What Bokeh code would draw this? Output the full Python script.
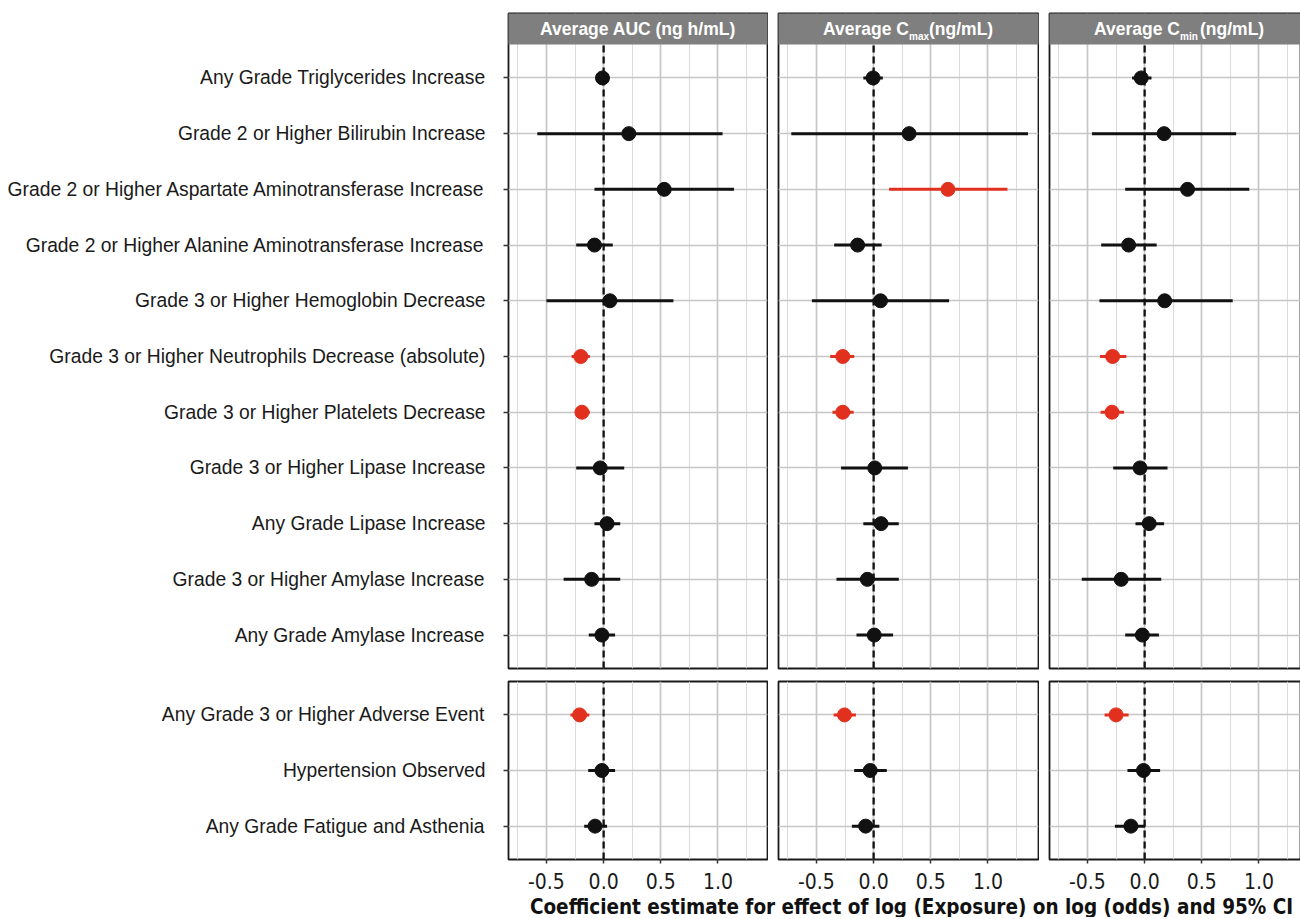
from bokeh.plotting import figure
from bokeh.layouts import row, column
from bokeh.models import Range1d, FixedTicker, ColumnDataSource
from bokeh.embed import file_html
from bokeh.resources import INLINE
from bokeh.core.properties import value

# ---------------- data ----------------
top_labels = [
    "Any Grade Triglycerides Increase",
    "Grade 2 or Higher Bilirubin Increase",
    "Grade 2 or Higher Aspartate Aminotransferase Increase",
    "Grade 2 or Higher Alanine Aminotransferase Increase",
    "Grade 3 or Higher Hemoglobin Decrease",
    "Grade 3 or Higher Neutrophils Decrease (absolute)",
    "Grade 3 or Higher Platelets Decrease",
    "Grade 3 or Higher Lipase Increase",
    "Any Grade Lipase Increase",
    "Grade 3 or Higher Amylase Increase",
    "Any Grade Amylase Increase",
]
bottom_labels = [
    "Any Grade 3 or Higher Adverse Event",
    "Hypertension Observed",
    "Any Grade Fatigue and Asthenia",
]

x_ticks = [-0.5, 0.0, 0.5, 1.0]
x_tick_labels = ["-0.5", "0.0", "0.5", "1.0"]
x_minor = [-0.75, -0.25, 0.25, 0.75, 1.25]

headers = [
    ("Average AUC (ng h/mL)", None, None),
    ("Average C", "max", "(ng/mL)"),
    ("Average C", "min", "(ng/mL)"),
]
x_title = "Coefficient estimate for effect of log (Exposure) on log (odds) and 95% CI"

# order: 11 top rows then 3 bottom rows
auc_est = [-0.01, 0.22, 0.53, -0.08, 0.055, -0.20, -0.19, -0.03, 0.03, -0.105, -0.015, -0.21, -0.015, -0.075]
auc_lo = [-0.04, -0.58, -0.08, -0.24, -0.50, -0.28, -0.25, -0.24, -0.08, -0.35, -0.13, -0.29, -0.135, -0.17]
auc_hi = [0.03, 1.04, 1.14, 0.08, 0.61, -0.12, -0.12, 0.18, 0.145, 0.145, 0.10, -0.125, 0.10, 0.03]

cmax_est = [-0.005, 0.31, 0.65, -0.14, 0.06, -0.27, -0.27, 0.01, 0.065, -0.055, 0.005, -0.255, -0.03, -0.07]
cmax_lo = [-0.09, -0.72, 0.135, -0.345, -0.54, -0.38, -0.36, -0.285, -0.09, -0.325, -0.15, -0.35, -0.17, -0.19]
cmax_hi = [0.08, 1.35, 1.17, 0.07, 0.66, -0.17, -0.175, 0.30, 0.22, 0.22, 0.17, -0.155, 0.115, 0.05]

cmin_est = [-0.03, 0.17, 0.375, -0.14, 0.175, -0.28, -0.285, -0.04, 0.04, -0.205, -0.02, -0.25, -0.01, -0.12]
cmin_lo = [-0.11, -0.46, -0.17, -0.38, -0.395, -0.39, -0.385, -0.275, -0.08, -0.55, -0.17, -0.35, -0.15, -0.26]
cmin_hi = [0.06, 0.80, 0.915, 0.105, 0.77, -0.16, -0.18, 0.20, 0.17, 0.145, 0.125, -0.14, 0.135, 0.005]

SERIES = [(auc_est, auc_lo, auc_hi), (cmax_est, cmax_lo, cmax_hi), (cmin_est, cmin_lo, cmin_hi)]

# ---------------- style / geometry ----------------
RED = "#E2301F"
BLACK = "#111111"
FONT = "Liberation Sans"
NARROW = "DejaVu Sans Condensed"
GRID_MAJ = "#C6C6C6"
GRID_MIN = "#DCDCDC"
STRIP = "#7F7F7F"

XLIM = (-0.832, 1.433)
FRAME_W = [259, 260, 252]
BORDER_L = [508, 10, 10]
BORDER_R = [1, 1, 0]
TOP_FRAME_H = 655
HEADER_H = 31
BOT_FRAME_H = 178
N_TOP = len(top_labels)
N_BOT = len(bottom_labels)
unit_px = (TOP_FRAME_H - HEADER_H) / (N_TOP + 0.2)
header_units = HEADER_H / unit_px


def make_fig(ci, top):
    labels = top_labels if top else bottom_labels
    n = len(labels)
    off = 0 if top else N_TOP
    e, l, h = SERIES[ci]
    est = e[off:off + n]
    lo = l[off:off + n]
    hi = h[off:off + n]
    ypos = [n - i for i in range(n)]
    colors = [RED if (b < 0 or a > 0) else BLACK for a, b in zip(lo, hi)]

    x_end = XLIM[0] + (XLIM[1] - XLIM[0]) * FRAME_W[ci] / FRAME_W[0]
    y_start = 0.4
    y_panel_end = n + 0.6
    y_end = y_panel_end + (header_units if top else 0)
    frame_h = TOP_FRAME_H if top else BOT_FRAME_H
    mbt = 13 if top else 2
    mbb = 11 if top else 36
    w = BORDER_L[ci] + FRAME_W[ci] + BORDER_R[ci]
    hgt = mbt + frame_h + mbb

    p = figure(width=w, height=hgt,
               x_range=Range1d(XLIM[0], x_end), y_range=Range1d(y_start, y_end),
               output_backend="svg", toolbar_location=None,
               x_axis_location=None if top else "below",
               y_axis_location="left" if ci == 0 else None,
               min_border_left=BORDER_L[ci], min_border_right=BORDER_R[ci],
               min_border_top=mbt, min_border_bottom=mbb)
    p.background_fill_color = "white"
    p.border_fill_color = "white"
    p.outline_line_color = "#1a1a1a"
    p.outline_line_width = 1.8

    p.xgrid.ticker = FixedTicker(ticks=x_ticks, minor_ticks=x_minor)
    p.xgrid.grid_line_color = GRID_MAJ
    p.xgrid.grid_line_width = 1.7
    p.xgrid.minor_grid_line_color = GRID_MIN
    p.xgrid.minor_grid_line_width = 1.1
    p.ygrid.ticker = FixedTicker(ticks=ypos)
    p.ygrid.grid_line_color = GRID_MAJ
    p.ygrid.grid_line_width = 1.7

    if top:
        p.quad(left=[XLIM[0] - 1], right=[x_end + 1], bottom=[y_panel_end], top=[y_end + 1],
               fill_color=STRIP, line_color=None)
        xc = (XLIM[0] + XLIM[1]) / 2
        yc = y_panel_end + header_units / 2
        main, sub, tail = headers[ci]
        common = dict(text_font=value(FONT), text_font_style="bold", text_color="white",
                      text_baseline="middle")
        if sub is None:
            p.text(x=[xc], y=[yc], text=[main], text_align="center", text_font_size="17.5px", **common)
        else:
            p.text(x=[xc], y=[yc], text=[main], text_align="left", x_offset=-85,
                   text_font_size="17.5px", **common)
            p.text(x=[xc], y=[yc], text=[sub], text_align="left", x_offset=1, y_offset=7,
                   text_font_size="10px", **common)
            p.text(x=[xc], y=[yc], text=[tail], text_align="left", x_offset=21,
                   text_font_size="17.5px", **common)

    # zero reference line
    p.segment(x0=[0], y0=[y_start], x1=[0], y1=[y_panel_end], line_color=BLACK,
              line_width=2.3, line_dash="7 4")

    src = ColumnDataSource(dict(y=ypos, est=est, lo=lo, hi=hi, color=colors))
    p.segment(x0="lo", y0="y", x1="hi", y1="y", color="color", line_width=3, source=src)
    p.scatter(x="est", y="y", size=14, marker="circle", fill_color="color", line_color="color",
              source=src)

    if ci == 0:
        ax = p.yaxis[0]
        ax.ticker = FixedTicker(ticks=ypos)
        ax.major_label_overrides = {y: lab for y, lab in zip(ypos, labels)}
        ax.major_label_text_font = FONT
        ax.major_label_text_font_size = "19.3px"
        ax.major_label_text_color = "#1a1a1a"
        ax.axis_line_color = None
        ax.major_tick_out = 5
        ax.major_tick_in = 0
        ax.major_tick_line_color = "#333333"
        ax.major_tick_line_width = 1.5
        ax.minor_tick_out = 0
        ax.minor_tick_in = 0
        ax.major_label_standoff = 18
    if not top:
        ax = p.xaxis[0]
        ax.ticker = FixedTicker(ticks=x_ticks)
        ax.major_label_overrides = dict(zip(x_ticks, x_tick_labels))
        ax.major_label_text_font = NARROW
        ax.major_label_text_font_size = "21px"
        ax.major_label_text_color = "#1a1a1a"
        ax.axis_line_color = None
        ax.major_tick_out = 4
        ax.major_tick_in = 0
        ax.major_tick_line_color = "#333333"
        ax.major_tick_line_width = 1.5
        ax.minor_tick_out = 0
        ax.minor_tick_in = 0
        ax.major_label_standoff = 9
    return p


tops = [make_fig(i, True) for i in range(3)]
bots = [make_fig(i, False) for i in range(3)]

total_w = sum(BORDER_L[i] + FRAME_W[i] + BORDER_R[i] for i in range(3))
TITLE_H = 22
tf = figure(width=total_w, height=TITLE_H, x_range=Range1d(0, total_w), y_range=Range1d(0, TITLE_H),
            output_backend="svg", toolbar_location=None,
            x_axis_location=None, y_axis_location=None, min_border=0)
tf.outline_line_color = None
tf.grid.visible = False
tf.text(x=[911], y=[11], text=[x_title], text_align="center", text_baseline="middle",
        text_font=value(NARROW), text_font_style="bold", text_font_size="20.5px", text_color="#111111")

layout = column(row(*tops), row(*bots), tf)
open("out.html", "w").write(file_html(layout, INLINE))
